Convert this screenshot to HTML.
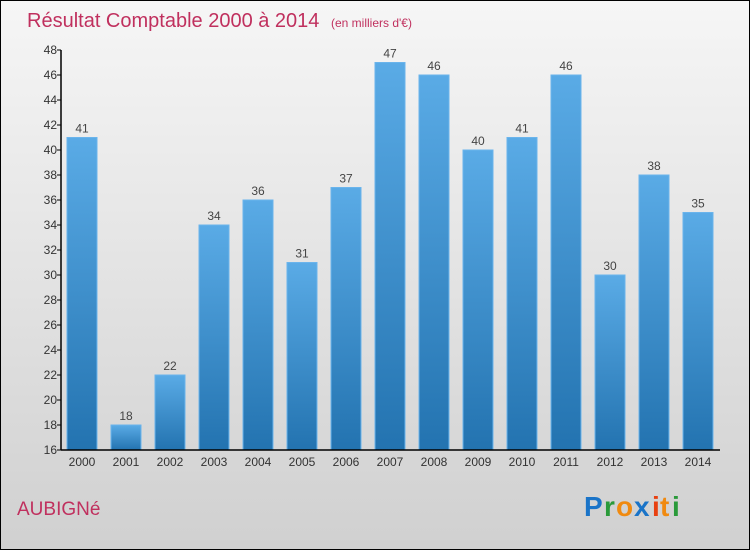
<!DOCTYPE html>
<html><head><meta charset="utf-8"><style>
html,body{margin:0;padding:0}
body{width:750px;height:550px;overflow:hidden;font-family:"Liberation Sans",sans-serif}
</style></head><body>
<svg id="chart" width="750" height="550" xmlns="http://www.w3.org/2000/svg">
<defs>
<linearGradient id="bg" x1="0" y1="0" x2="0" y2="1"><stop offset="0" stop-color="#f6f6f6"/><stop offset="1" stop-color="#d0d0d0"/></linearGradient>
<linearGradient id="bar" x1="0" y1="0" x2="0" y2="1"><stop offset="0" stop-color="#5aabe6"/><stop offset="1" stop-color="#2373b0"/></linearGradient>
</defs>
<rect x="0.5" y="0.5" width="749" height="549" fill="url(#bg)" stroke="#000"/>
<text x="27" y="27" font-size="20" fill="#c0305e">Résultat Comptable 2000 à 2014 <tspan font-size="12" dx="6">(en milliers d'€)</tspan></text>
<g id="bars"></g>
<g id="axes"></g>
<text x="17" y="515" font-size="19" fill="#c0305e">AUBIGNé</text>
<g font-size="28" font-weight="bold" font-family="Liberation Sans, sans-serif">
<text x="584" y="516" fill="#1a74c8">P</text><text x="604" y="516" fill="#2a9a3a">r</text><text x="616" y="516" fill="#f08a10">o</text><text x="634" y="516" fill="#1a74c8">x</text><text x="652" y="516" fill="#e84010">i</text><text x="660" y="516" fill="#f08a10">t</text><text x="672" y="516" fill="#2a9a3a">i</text>
</g>
</svg>
<script>
const years=["2000","2001","2002","2003","2004","2005","2006","2007","2008","2009","2010","2011","2012","2013","2014"];
const values=[41,18,22,34,36,31,37,47,46,40,41,46,30,38,35];
const ticks=[16,18,20,22,24,26,28,30,32,34,36,38,40,42,44,46,48];
const NS="http://www.w3.org/2000/svg";
const yMin=16,yMax=48,plotTop=50,plotBot=450,x0=61,step=44;
const y=v=>plotBot-(v-yMin)/(yMax-yMin)*(plotBot-plotTop);
const xc=i=>x0+21+i*step;
function mk(t,a,p){const e=document.createElementNS(NS,t);for(const k in a)e.setAttribute(k,a[k]);p.appendChild(e);return e;}
const bars=document.getElementById('bars'),axes=document.getElementById('axes');
values.forEach((v,i)=>{
 const r=mk('rect',{x:xc(i)-15,y:y(v),width:30,height:plotBot-y(v),fill:'url(#bar)',stroke:'#6ab4ec','stroke-width':1},bars);
 
 
 const t=mk('text',{x:xc(i),y:y(v)-5,'text-anchor':'middle','font-size':12,fill:'#444'},bars);
 t.textContent=v;
 
 
 const xl=mk('text',{x:xc(i),y:plotBot+16,'text-anchor':'middle','font-size':12,fill:'#333'},axes);
 xl.textContent=years[i];
 
 
});
const ya=mk('line',{x1:x0,y1:plotTop,x2:x0,y2:plotBot,stroke:'#000','stroke-width':1.5},axes);


const xa=mk('line',{x1:x0,y1:plotBot,x2:720,y2:plotBot,stroke:'#000','stroke-width':1.5},axes);


ticks.forEach(tv=>{
 mk('line',{x1:x0-4,y1:y(tv),x2:x0,y2:y(tv),stroke:'#000'},axes);
 const t=mk('text',{x:x0-4,y:y(tv)+4,'text-anchor':'end','font-size':12,fill:'#333'},axes);
 t.textContent=tv;
 
 
});
</script>
</body></html>
